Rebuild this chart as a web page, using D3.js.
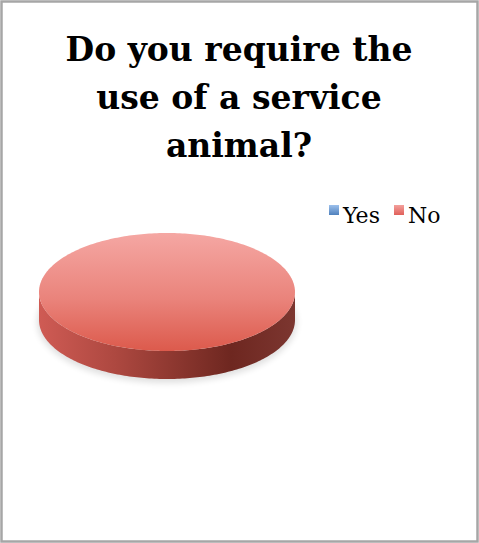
<!DOCTYPE html>
<html><head><meta charset="utf-8">
<script src="https://cdn.jsdelivr.net/npm/d3@7"></script>
<style>html,body{margin:0;padding:0;background:#fff;}svg{display:block;}</style>
</head><body>
<script>
const title = ["Do you require the", "use of a service", "animal?"];
const categories = ["Yes", "No"];
const values = [0, 100];
const colors = ["#4f81bd", "#e0625c"];

const W = 479, H = 543;
const svg = d3.select("body").append("svg").attr("width", W).attr("height", H);
const defs = svg.append("defs");

// frame
svg.append("rect").attr("x", 1.5).attr("y", 1.5).attr("width", W - 3).attr("height", H - 3)
  .attr("fill", "#fff").attr("stroke", "#a6a6a6").attr("stroke-width", 2.5);

// title
svg.append("text").attr("text-anchor", "middle")
  .attr("font-family", "DejaVu Serif").attr("font-weight", "bold").attr("font-size", 33)
  .attr("fill", "#000")
  .selectAll("tspan").data(title).join("tspan")
  .attr("x", 239).attr("y", (d, i) => 61 + i * 48).text(d => d);

// gradients
const gTop = defs.append("linearGradient").attr("id", "gTop").attr("x1", 0).attr("y1", 0).attr("x2", 0).attr("y2", 1);
gTop.append("stop").attr("offset", "0%").attr("stop-color", "#f5a7a3");
gTop.append("stop").attr("offset", "55%").attr("stop-color", "#ea847c");
gTop.append("stop").attr("offset", "100%").attr("stop-color", "#dc5a4c");
const gSide = defs.append("linearGradient").attr("id", "gSide").attr("x1", 0).attr("y1", 0).attr("x2", 1).attr("y2", 0);
gSide.append("stop").attr("offset", "0%").attr("stop-color", "#cf5b54");
gSide.append("stop").attr("offset", "30%").attr("stop-color", "#ad4840");
gSide.append("stop").attr("offset", "75%").attr("stop-color", "#6e2720");
gSide.append("stop").attr("offset", "100%").attr("stop-color", "#7c3630");
const gBlue = defs.append("linearGradient").attr("id", "gBlue").attr("x1", 0).attr("y1", 0).attr("x2", 0).attr("y2", 1);
gBlue.append("stop").attr("offset", "0%").attr("stop-color", "#9cc0ec");
gBlue.append("stop").attr("offset", "100%").attr("stop-color", "#4f81bd");
const gRed = defs.append("linearGradient").attr("id", "gRed").attr("x1", 0).attr("y1", 0).attr("x2", 0).attr("y2", 1);
gRed.append("stop").attr("offset", "0%").attr("stop-color", "#f3a09c");
gRed.append("stop").attr("offset", "100%").attr("stop-color", "#e0605a");
const blur = defs.append("filter").attr("id", "blur").attr("x", "-20%").attr("y", "-50%").attr("width", "140%").attr("height", "200%");
blur.append("feGaussianBlur").attr("stdDeviation", 3);

// legend
const legend = svg.append("g");
const legX = [329, 394];
categories.forEach((c, i) => {
  legend.append("rect").attr("x", legX[i]).attr("y", 205).attr("width", 10).attr("height", 10)
    .attr("fill", i === 0 ? "url(#gBlue)" : "url(#gRed)");
  legend.append("text").attr("x", legX[i] + 14).attr("y", 223)
    .attr("font-family", "DejaVu Serif").attr("font-size", 22).attr("fill", "#000").text(c);
});

// 3D pie
const cx = 167, cy = 292, rx = 128, ry = 59, depth = 28;
const pie = d3.pie().sort(null).value(d => d)(values);
const px = a => cx + rx * Math.sin(a), py = a => cy - ry * Math.cos(a);
function arcPts(a0, a1, dy) {
  const n = Math.max(2, Math.ceil((a1 - a0) / 0.02));
  return d3.range(n + 1).map(k => { const a = a0 + (a1 - a0) * k / n; return [px(a), py(a) + dy]; });
}

// shadow
svg.append("ellipse").attr("cx", cx).attr("cy", cy + depth + 2).attr("rx", rx + 2).attr("ry", ry + 2)
  .attr("fill", "#000").attr("opacity", 0.12).attr("filter", "url(#blur)");

const line = d3.line();
pie.forEach((p, i) => {
  if (p.endAngle - p.startAngle <= 0) return;
  const a0 = Math.max(p.startAngle, Math.PI / 2), a1 = Math.min(p.endAngle, 3 * Math.PI / 2);
  if (a1 > a0) {
    const top = arcPts(a0, a1, 0), bot = arcPts(a0, a1, depth).reverse();
    svg.append("path").attr("d", line(top.concat(bot)) + "Z").attr("fill", "url(#gSide)");
  }
});
pie.forEach((p, i) => {
  if (p.endAngle - p.startAngle <= 0) return;
  const full = p.endAngle - p.startAngle >= 2 * Math.PI - 1e-6;
  const pts = arcPts(p.startAngle, p.endAngle, 0);
  const d = full ? line(pts) + "Z" : "M" + cx + "," + cy + "L" + line(pts).slice(1) + "Z";
  svg.append("path").attr("d", d).attr("fill", i === 1 ? "url(#gTop)" : colors[i]);
});
</script>
</body></html>
